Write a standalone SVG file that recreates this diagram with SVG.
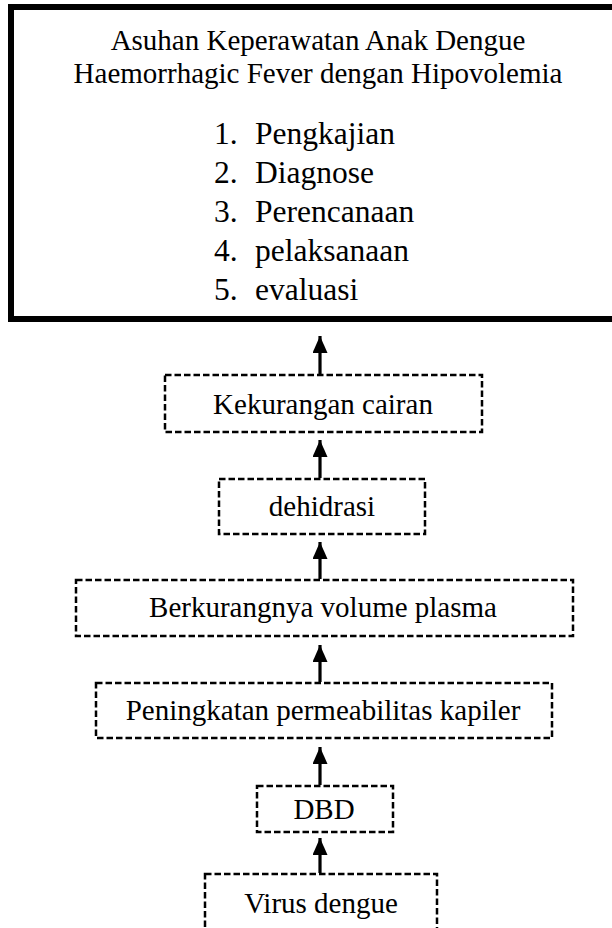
<svg xmlns="http://www.w3.org/2000/svg" width="612" height="928" viewBox="0 0 612 928">
<style>
text{font-family:"Liberation Serif","Times New Roman",serif;fill:#000}
.t{font-size:29px;text-anchor:middle}
.l{font-size:31.5px}
.box{fill:none;stroke:#000;stroke-width:2.5;stroke-dasharray:6.5 3}
.arr{stroke:#000;stroke-width:3.2;fill:none}
</style>
<defs>
<marker id="ah" markerUnits="userSpaceOnUse" markerWidth="17" markerHeight="16" refX="17" refY="7.5" orient="auto">
<path d="M0,0 L17,7.5 L0,15 Z" fill="#000"/>
</marker>
</defs>
<rect width="612" height="928" fill="#fff"/>
<g id="main">
<rect x="11" y="7" width="610" height="312" fill="none" stroke="#000" stroke-width="6"/>
<text class="t" x="318" y="50">Asuhan Keperawatan Anak Dengue</text>
<text class="t" x="318" y="83">Haemorrhagic Fever dengan Hipovolemia</text>
<text class="l" x="214" y="144">1.</text><text class="l" x="255" y="144">Pengkajian</text>
<text class="l" x="214" y="183">2.</text><text class="l" x="255" y="183">Diagnose</text>
<text class="l" x="214" y="222">3.</text><text class="l" x="255" y="222">Perencanaan</text>
<text class="l" x="214" y="261">4.</text><text class="l" x="255" y="261">pelaksanaan</text>
<text class="l" x="214" y="300">5.</text><text class="l" x="255" y="300">evaluasi</text>
</g>
<g id="kekurangan">
<rect class="box" x="165" y="375" width="317" height="57"/>
<text class="t" x="323" y="414">Kekurangan cairan</text>
</g>
<g id="dehidrasi">
<rect class="box" x="219" y="479" width="206" height="55"/>
<text class="t" x="322" y="516">dehidrasi</text>
</g>
<g id="berkurangnya">
<rect class="box" x="76" y="580" width="497" height="56"/>
<text class="t" x="323" y="617">Berkurangnya volume plasma</text>
</g>
<g id="peningkatan">
<rect class="box" x="96" y="683" width="456" height="55"/>
<text class="t" x="323" y="720">Peningkatan permeabilitas kapiler</text>
</g>
<g id="dbd">
<rect class="box" x="257" y="786" width="136" height="46"/>
<text class="t" x="324" y="819">DBD</text>
</g>
<g id="virus">
<rect class="box" x="205" y="874" width="232" height="70"/>
<text class="t" x="321" y="913">Virus dengue</text>
</g>
<g id="connectors">
<line class="arr" x1="320" y1="374" x2="320" y2="336" marker-end="url(#ah)"/>
<line class="arr" x1="320" y1="478" x2="320" y2="440" marker-end="url(#ah)"/>
<line class="arr" x1="320" y1="579" x2="320" y2="542" marker-end="url(#ah)"/>
<line class="arr" x1="320" y1="682" x2="320" y2="645" marker-end="url(#ah)"/>
<line class="arr" x1="320" y1="785" x2="320" y2="747" marker-end="url(#ah)"/>
<line class="arr" x1="320" y1="873" x2="320" y2="838" marker-end="url(#ah)"/>
</g>
</svg>
